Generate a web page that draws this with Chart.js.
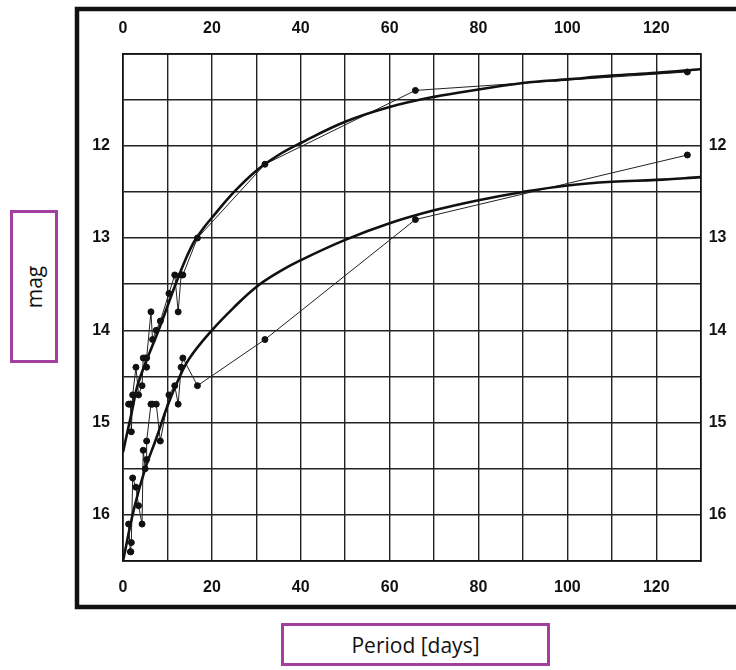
<!DOCTYPE html>
<html>
<head>
<meta charset="utf-8">
<title>Period - magnitude</title>
<script src="https://cdn.jsdelivr.net/npm/chart.js@4.4.1/dist/chart.umd.min.js"></script>
<style>
  body { margin: 0; background: #fff; }
  #wrap { position: relative; width: 736px; height: 670px; overflow: hidden; background: #fff; }
  #plot { position: absolute; left: 0; top: 0; }
  .axis-box {
    position: absolute; box-sizing: border-box; border: 3px solid #a23f9f; background: #fff;
    display: flex; align-items: center; justify-content: center;
    font-family: 'Open Sans', 'Noto Sans', sans-serif; color: #111; font-size: 21px;
  }
  #yTitle { left: 10px; top: 210px; width: 48px; height: 153px; }
  #yTitle span { transform: rotate(-90deg); white-space: nowrap; }
  #xTitle { left: 281px; top: 623px; width: 269px; height: 43px; }
</style>
</head>
<body>
<div id="wrap">
  <canvas id="plot" width="736" height="670"></canvas>
  <div class="axis-box" id="yTitle"><span>mag</span></div>
  <div class="axis-box" id="xTitle">Period [days]</div>
</div>
<script>
// --- observed variables: period (days), brightest and faintest magnitude ---
const periods = [1.25336, 1.6637, 1.7620, 1.87502, 2.17352, 2.913, 3.501, 4.2897, 4.547, 4.9866,
                 5.311, 5.323, 6.2926, 6.650, 7.483, 8.397, 10.336, 11.645, 12.417, 13.08,
                 13.47, 16.75, 31.94, 65.8, 127.0];
const maxMag = [14.8, 14.8, 14.8, 15.1, 14.7, 14.4, 14.7, 14.6, 14.3, 14.3,
                14.4, 14.3, 13.8, 14.1, 14.0, 13.9, 13.6, 13.4, 13.8, 13.4,
                13.4, 13.0, 12.2, 11.4, 11.2];
const minMag = [16.1, 16.4, 16.4, 16.3, 15.6, 15.7, 15.9, 16.1, 15.3, 15.5,
                15.4, 15.2, 14.8, 14.8, 14.8, 15.2, 14.7, 14.6, 14.8, 14.4,
                14.3, 14.6, 14.1, 12.8, 12.1];

// smooth curves drawn through the maxima and minima
const upperFitP   = [0, 2, 3.5, 8, 12, 14, 16, 18, 20, 25, 30, 35, 40, 50, 60, 70, 80, 90, 100, 110, 120, 130];
const upperFitMag = [15.32, 14.88, 14.56, 14.0, 13.48, 13.24, 13.04, 12.9, 12.78, 12.5, 12.27, 12.1, 11.97,
                     11.74, 11.58, 11.47, 11.39, 11.32, 11.28, 11.24, 11.21, 11.17];
const lowerFitP   = [0, 2.5, 5, 7.5, 10, 12.5, 15, 20, 25, 30, 35, 40, 50, 60, 70, 80, 90, 100, 110, 120, 130];
const lowerFitMag = [16.5, 15.93, 15.5, 15.17, 14.82, 14.53, 14.3, 14.0, 13.75, 13.53, 13.37, 13.24, 13.02,
                     12.84, 12.70, 12.59, 12.50, 12.43, 12.39, 12.37, 12.34];

// axis ticks
const periodTicks = [0, 20, 40, 60, 80, 100, 120];
const magTicks = [12, 13, 14, 15, 16];

const pairs = (xs, ys) => xs.map((x, i) => ({ x: x, y: ys[i] }));

// thick black frame around the sheet
const paperFrame = {
    id: 'paperFrame',
    beforeDraw(chart) {
        const ctx = chart.ctx;
        ctx.save();
        ctx.fillStyle = '#fff';
        ctx.fillRect(0, 0, chart.width, chart.height);
        ctx.strokeStyle = '#111';
        ctx.lineWidth = 4.5;
        ctx.strokeRect(77, 9, 720, 598);
        ctx.restore();
    }
};

const tickFont = { family: "'Liberation Sans', Arial, sans-serif", size: 16, weight: 'bold' };
const gridStyle = { color: '#222', lineWidth: 1.4, drawTicks: false };
const borderStyle = { display: true, color: '#111', width: 1.7 };

function periodLabel(v) {
    return periodTicks.includes(v) ? v : '';
}
function magLabel(v) {
    const r = Math.round(v);
    return (Math.abs(v - r) < 1e-6 && magTicks.includes(r)) ? r : '';
}

function xAxis(position, showGrid, pad, h) {
    return {
        type: 'linear', position: position, min: 0, max: 130,
        grid: showGrid ? gridStyle : { display: false, drawTicks: false },
        border: borderStyle,
        ticks: { stepSize: 10, autoSkip: false, maxRotation: 0, padding: pad, color: '#111',
                 font: tickFont, callback: periodLabel },
        afterFit: s => { s.height = h; }
    };
}
function yAxis(position, showGrid, pad, w) {
    return {
        type: 'linear', position: position, min: 11, max: 16.5, reverse: true,
        grid: showGrid ? gridStyle : { display: false, drawTicks: false },
        border: borderStyle,
        ticks: { stepSize: 0.5, autoSkip: false, padding: pad, color: '#111',
                 font: tickFont, callback: magLabel },
        afterFit: s => { s.width = w; }
    };
}

const ctx = document.getElementById('plot').getContext('2d');
new Chart(ctx, {
    type: 'scatter',
    data: {
        datasets: [
            {   // curve through maxima
                data: pairs(upperFitP, upperFitMag), showLine: true, borderColor: '#111',
                borderWidth: 2.6, pointRadius: 0, tension: 0.4
            },
            {   // curve through minima
                data: pairs(lowerFitP, lowerFitMag), showLine: true, borderColor: '#111',
                borderWidth: 2.6, pointRadius: 0, tension: 0.4
            },
            {
                data: pairs(periods, maxMag), showLine: true, borderColor: '#222', borderWidth: 1,
                pointRadius: 3, pointBackgroundColor: '#111', pointBorderColor: '#111'
            },
            {
                data: pairs(periods, minMag), showLine: true, borderColor: '#222', borderWidth: 1,
                pointRadius: 3, pointBackgroundColor: '#111', pointBorderColor: '#111'
            }
        ]
    },
    options: {
        responsive: false,
        animation: false,
        devicePixelRatio: 1,
        layout: { padding: 0 },
        plugins: { legend: { display: false }, tooltip: { enabled: false } },
        scales: {
            x: xAxis('bottom', true, 17, 109),
            xTop: xAxis('top', false, 15, 53.5),
            y: yAxis('left', true, 13, 123),
            yRight: yAxis('right', false, 8, 35.3)
        }
    },
    plugins: [paperFrame]
});
</script>
</body>
</html>
